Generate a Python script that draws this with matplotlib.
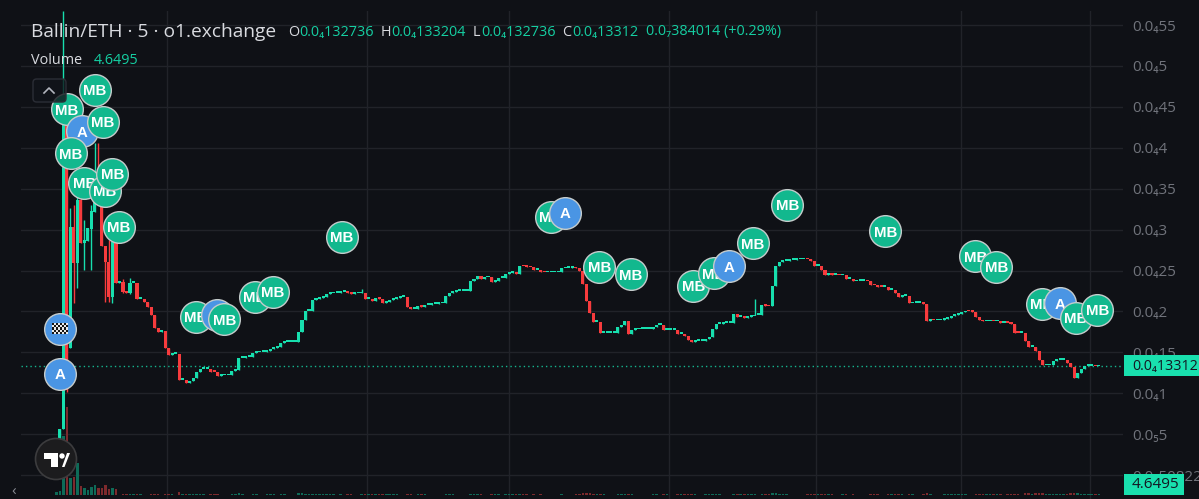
"""Ballin/ETH 5 minute candles on o1.exchange, dark chart with trade markers."""

import matplotlib

matplotlib.use("Agg")

import matplotlib.pyplot as plt
import numpy as np
from matplotlib.patches import Circle, FancyBboxPatch, Polygon, Rectangle

plt.rcParams["font.family"] = ["Open Sans", "DejaVu Sans"]

# === DATA ===

# first bars, when the range is wide: open, high, low, close
first_opens = [.0159, .0330, .0562, .4340, .1553, .3032, .2592, .3362, .2836,
               .2861, .3007, .3215, .3460, .3301, .2800, .2604, .2176, .2848]
first_highs = [.0330, .0562, .5672, .4340, .3264, .3301, .3729, .3484, .3117,
               .3020, .3301, .4059, .4059, .3301, .2800, .2873, .2848, .2848]
first_lows = [.0159, .0330, .0562, .1015, .1553, .2103, .2286, .2836, .2506,
              .2861, .2506, .3215, .3301, .2800, .2115, .2115, .2103, .2347]
first_closes = [.0330, .0562, .4340, .1039, .3032, .2592, .3362, .2836, .2873,
                .3020, .3227, .3484, .3301, .2800, .2604, .2176, .2848, .2347]

# the other bars open on the previous close
later_closes = [
    .2359, .2237, .2225, .2347, .2347, .2152, .2152, .2115, .2054, .1956,
    .1797, .1748, .1760, .1553, .1467, .1479, .1479, .1161, .1161, .1131,
    .1155, .1186, .1259, .1296, .1296, .1296, .1265, .1259, .1216, .1222,
    .1222, .1222, .1271, .1278, .1430, .1436, .1443, .1443, .1491, .1498,
    .1504, .1504, .1522, .1540, .1553, .1559, .1614, .1626, .1626, .1626,
    .1626, .1748, .1895, .2005, .2005, .2139, .2152, .2170, .2176, .2213,
    .2219, .2225, .2225, .2237, .2237, .2225, .2213, .2219, .2219, .2225,
    .2152, .2152, .2127, .2164, .2152, .2103, .2115, .2139, .2152, .2164,
    .2176, .2176, .2054, .2029, .2029, .2066, .2054, .2078, .2078, .2090,
    .2090, .2097, .2103, .2188, .2225, .2237, .2249, .2249, .2249, .2249,
    .2372, .2396, .2433, .2402, .2415, .2415, .2359, .2366, .2408, .2408,
    .2463, .2469, .2476, .2457, .2555, .2549, .2543, .2537, .2506, .2506,
    .2482, .2476, .2476, .2476, .2476, .2476, .2525, .2531, .2531, .2537,
    .2525, .2500, .2335, .2127, .1980, .1870, .1870, .1736, .1736, .1736,
    .1736, .1736, .1809, .1834, .1883, .1724, .1773, .1779, .1785, .1785,
    .1785, .1785, .1809, .1834, .1834, .1773, .1773, .1773, .1773, .1724,
    .1724, .1699, .1650, .1626, .1638, .1638, .1638, .1663, .1687, .1785,
    .1846, .1852, .1858, .1864, .1864, .1968, .1932, .1932, .1919, .1932,
    .1938, .1956, .1956, .2078, .2066, .2060, .2311, .2555, .2604, .2616,
    .2622, .2628, .2628, .2635, .2635, .2641, .2635, .2622, .2561, .2561,
    .2506, .2445, .2457, .2445, .2445, .2439, .2439, .2396, .2396, .2366,
    .2372, .2372, .2372, .2366, .2323, .2317, .2304, .2298, .2298, .2262,
    .2262, .2225, .2182, .2188, .2188, .2097, .2103, .2103, .2103, .2090,
    .1883, .1895, .1889, .1889, .1895, .1907, .1919, .1944, .1956, .1974,
    .1987, .2005, .1999, .1993, .1932, .1895, .1877, .1877, .1883, .1877,
    .1883, .1864, .1864, .1858, .1852, .1742, .1736, .1736, .1638, .1571,
    .1571, .1510, .1406, .1339, .1339, .1339, .1394, .1412, .1412, .1412,
    .1369, .1320, .1192, .1253, .1290, .1333, .1333, .1333, .1327, .13312,
]

# the few later bars with a visible wick
wick_bars = [19, 21, 87, 199]
wick_highs = [.2396, .2408, .2274, .2152]
wick_lows = [.2225, .2213, .2225, .1956]

first_volume = [14, 18, 270, 405, 78, 83, 147, 41, 32, 23, 37, 46, 32, 32, 46, 28, 32, 28]
later_volume = [
    2, 3, 3, 3, 4, 3, 3, 2, 2, 4,
    3, 3, 2, 4, 4, 3, 2, 12, 5, 4,
    3, 3, 4, 5, 3, 2, 4, 3, 4, 2,
    2, 2, 3, 3, 8, 4, 2, 2, 4, 3,
    2, 2, 3, 3, 3, 2, 4, 3, 2, 2,
    2, 7, 8, 6, 3, 6, 4, 3, 3, 4,
    4, 3, 2, 3, 2, 3, 3, 2, 2, 3,
    6, 3, 4, 4, 3, 5, 3, 3, 3, 3,
    2, 2, 5, 3, 2, 3, 3, 3, 2, 2,
    2, 2, 2, 5, 4, 3, 2, 2, 2, 2,
    6, 4, 4, 3, 2, 2, 4, 3, 3, 2,
    4, 3, 3, 3, 5, 3, 3, 2, 3, 2,
    3, 2, 2, 2, 2, 2, 3, 2, 2, 2,
    3, 3, 7, 9, 7, 6, 3, 6, 3, 2,
    2, 2, 4, 3, 4, 5, 3, 2, 2, 2,
    2, 2, 3, 3, 2, 4, 3, 2, 2, 4,
    3, 3, 4, 3, 3, 2, 2, 3, 3, 5,
    5, 3, 2, 2, 2, 6, 4, 3, 3, 3,
    3, 3, 2, 6, 4, 3, 9, 10, 5, 3,
    3, 2, 2, 2, 2, 2, 3, 3, 4, 3,
    5, 5, 4, 3, 2, 2, 3, 4, 2, 3,
    2, 2, 2, 2, 4, 3, 3, 2, 2, 4,
    3, 5, 5, 3, 2, 6, 3, 2, 2, 3,
    8, 3, 2, 2, 2, 3, 3, 3, 4, 3,
    3, 3, 2, 2, 5, 6, 4, 3, 3, 3,
    3, 3, 2, 3, 3, 6, 3, 2, 7, 8,
    3, 7, 8, 9, 5, 3, 6, 5, 4, 3,
    6, 7, 10, 8, 6, 6, 4, 3, 3, 4.6495,
]

# trade markers, listed in paint order
marker_labels = ["MB", "MB", "A", "MB", "MB", "MB", "MB", "MB", "MB", "MB", "flag", "A",
                 "MB", "A", "MB", "MB", "MB", "MB", "A", "MB", "MB", "MB", "MB", "A",
                 "MB", "MB", "MB", "MB", "MB", "MB", "A", "MB", "MB"]
marker_bars = [3.0, 11.0, 7.2, 13.2, 4.1, 8.0, 13.9, 16.0, 17.9, 81.4, 1.05, 1.05,
               39.8, 45.7, 47.9, 56.6, 61.7, 140.9, 144.9, 154.7, 163.7, 181.5, 187.4, 191.7,
               198.4, 208.3, 236.2, 261.8, 267.8, 280.7, 286.0, 290.4, 296.6]
marker_prices = [.4474, .4707, .4205, .4319, .3936, .3570, .3472, .3683, .3035, .2910, .1789, .1235,
                 .1935, .1956, .1903, .2180, .2241, .3158, .3207, .2543, .2457, .2311, .2469, .2555,
                 .2833, .3304, .2979, .2677, .2543, .2094, .2099, .1923, .2021]

price_ticks = [.55, .5, .45, .4, .35, .3, .25, .2, .15, .1, .05, 0]
price_tick_labels = ["0.0₄55", "0.0₄5", "0.0₄45", "0.0₄4", "0.0₄35", "0.0₄3", "0.0₄25",
                     "0.0₄2", "0.0₄15", "0.0₄1", "0.0₅5", "0.0₇50822"]
time_ticks = [31.5, 88.5, 129, 174.6, 216.4, 257.8, 294.5]

last_price = 0.13312
last_price_label = "0.0₄13312"
last_volume_label = "4.6495"

header_parts = [
    ("O", 288, "label"), ("0.0₄132736", 299, "value"),
    ("H", 381, "label"), ("0.0₄133204", 391, "value"),
    ("L", 473, "label"), ("0.0₄132736", 481, "value"),
    ("C", 562, "label"), ("0.0₄13312", 572, "value"),
    ("0.0₇384014 (+0.29%)", 646, "value"),
]

# === STYLE ===

BACKGROUND = "#0f1116"
GRID = "#212329"
UP = "#17dfae"
DOWN = "#f73b3d"
UP_VOLUME = "#0e6b58"
DOWN_VOLUME = "#7d2a2d"
TEXT = "#d9dbe0"
VALUE = "#15cfa2"
AXIS_TEXT = "#70737b"
MB_FILL = "#12b88e"
A_FILL = "#4a95e4"
MARKER_EDGE = "#c5cccc"

W, H = 1199, 499


def fx(x):
    return x / W


def fy(y):
    return 1 - y / H


# === BUILD BARS ===

closes = np.array(first_closes + later_closes)
opens = np.array(first_opens + [first_closes[-1]] + later_closes[:-1])
highs = np.maximum(opens, closes)
lows = np.minimum(opens, closes)
highs[: len(first_highs)] = first_highs
lows[: len(first_lows)] = first_lows
highs[wick_bars] = wick_highs
lows[wick_bars] = wick_lows
volume = np.array(first_volume + later_volume, dtype=float)
bars = np.arange(len(closes))
is_up = closes >= opens

# === FIGURE ===

fig = plt.figure(figsize=(W / 100, H / 100), dpi=100, facecolor=BACKGROUND)
ax = fig.add_axes([fx(21), 0, 1102 / W, 488 / H], facecolor=BACKGROUND)
ax.set_xlim((21 - 56.3) / 3.51, (1123 - 56.3) / 3.51)
ax.set_ylim(-0.0293, 0.5672)

for spine in ax.spines.values():
    spine.set_visible(False)
ax.set_xticks(time_ticks)
ax.set_xticklabels([])
ax.tick_params(axis="x", length=0)
ax.yaxis.tick_right()
ax.set_yticks(price_ticks)
ax.set_yticklabels(price_tick_labels, color=AXIS_TEXT, fontsize=11, ha="left")
ax.tick_params(axis="y", length=0, pad=7)
ax.grid(True, color=GRID, linewidth=1)
ax.set_axisbelow(True)

# volume shares the pane with its own scale, about 4.6 units per pixel
vol_ax = fig.add_axes(ax.get_position(), facecolor="none", sharex=ax)
vol_ax.set_ylim(-18.4, 2226)
vol_ax.axis("off")
vol_ax.bar(bars, volume, width=0.72,
           color=[UP_VOLUME if up else DOWN_VOLUME for up in is_up], linewidth=0)

# bring the price pane's marks over the volume
price_ax = fig.add_axes(ax.get_position(), facecolor="none", sharex=ax, sharey=ax)
price_ax.axis("off")
colors = [UP if up else DOWN for up in is_up]
price_ax.vlines(bars, lows, highs, colors=colors, linewidth=1, zorder=3)
body_low = np.minimum(opens, closes)
body_height = np.maximum(np.abs(closes - opens), 0.0019)
price_ax.bar(bars, body_height, bottom=body_low, width=0.88, color=colors, linewidth=0, zorder=4)

# last price line
price_ax.axhline(last_price, color=UP, linewidth=1, linestyle=(0, (1, 2.2)), alpha=0.8, zorder=2)

# markers
for i, (label, bar, price) in enumerate(zip(marker_labels, marker_bars, marker_prices)):
    fill = MB_FILL if label == "MB" else A_FILL
    price_ax.scatter([bar], [price], s=520, color=fill, edgecolors=MARKER_EDGE,
                     linewidths=1, zorder=10 + i)
    if label != "flag":
        price_ax.text(bar, price, label, color="white", fontsize=10.8, fontweight="bold",
                      family="Liberation Sans", ha="center", va="center_baseline", zorder=10 + i)

# checkered flag inside the first blue marker
flag_ax = fig.add_axes([fx(52), fy(334), 16 / W, 11 / H])
flag_ax.imshow(np.indices((5, 8)).sum(axis=0) % 2, cmap="gray", vmin=-0.1, vmax=1.1,
               aspect="auto", interpolation="nearest")
flag_ax.axis("off")

# === CHROME DRAWN IN FIGURE PIXELS ===

# collapse button
fig.add_artist(FancyBboxPatch((fx(33), fy(102)), 33 / W, 23 / H,
                              boxstyle="round,pad=0,rounding_size=0.003",
                              transform=fig.transFigure, facecolor="#11141acc",
                              edgecolor="#2b2e36", linewidth=1, mutation_aspect=2.4))
fig.add_artist(plt.Line2D([fx(44), fx(49), fx(54)], [fy(93), fy(88), fy(93)],
                          color="#b2b5be", linewidth=1.2))

# logo badge
logo_ax = fig.add_axes([fx(34), fy(481), 44 / W, 44 / H], facecolor="none")
logo_ax.set_xlim(34, 78)
logo_ax.set_ylim(481, 437)
logo_ax.axis("off")
logo_ax.add_patch(Circle((56, 459), 20.5, facecolor="#1c1c1e", edgecolor="#3c3c3e", linewidth=1.2))
logo_ax.add_patch(Polygon([(43.5, 453), (57.5, 453), (57.5, 467), (50.5, 467), (50.5, 459), (43.5, 459)],
                          facecolor="white"))
logo_ax.add_patch(Circle((62, 456), 2.7, facecolor="white"))
logo_ax.add_patch(Polygon([(62, 467), (67, 453), (70, 453), (64.5, 467)], facecolor="white"))

# price and volume tags
fig.add_artist(Rectangle((fx(1124), fy(376)), 75 / W, 21 / H, transform=fig.transFigure,
                         facecolor="#19e0ae", linewidth=0))
fig.text(fx(1132), fy(366), last_price_label, color="#131722", fontsize=10.3, va="center")
fig.add_artist(Rectangle((fx(1124), fy(495)), 60 / W, 21 / H, transform=fig.transFigure,
                         facecolor="#19e0ae", linewidth=0))
fig.text(fx(1132), fy(485), last_volume_label, color="#131722", fontsize=11, va="center")

# left scroll arrow
fig.text(fx(14), fy(492), "‹", color="#8a8d95", fontsize=11, ha="center", va="center")

# === HEADER TEXT ===

fig.text(fx(31), fy(32), "Ballin/ETH · 5 · o1.exchange", color=TEXT, fontsize=13.8, fontweight=500, va="center")
for text, x, kind in header_parts:
    fig.text(fx(x), fy(32), text, color=TEXT if kind == "label" else VALUE, fontsize=10.4, va="center")
fig.text(fx(31), fy(61), "Volume", color=TEXT, fontsize=10.4, va="center")
fig.text(fx(94), fy(61), last_volume_label, color=VALUE, fontsize=10.4, va="center")

fig.savefig("out.png", dpi=100, facecolor=BACKGROUND)
